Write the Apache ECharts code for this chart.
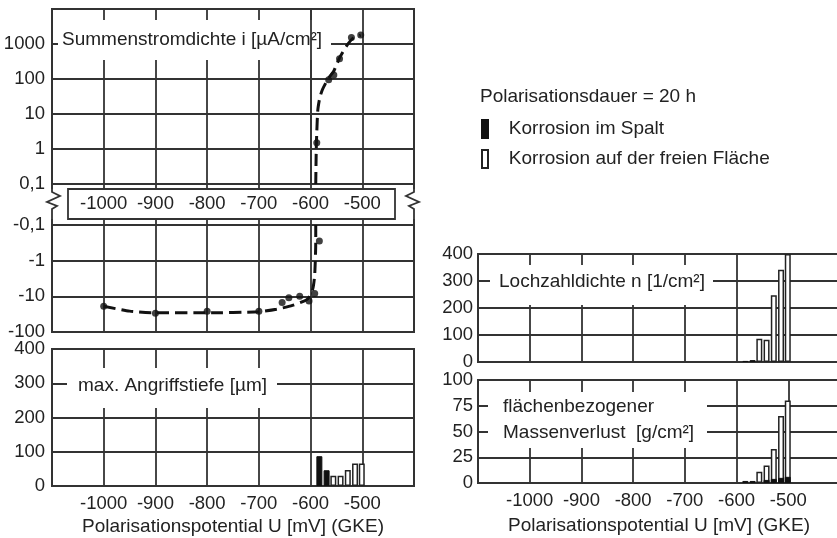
<!DOCTYPE html>
<html><head><meta charset="utf-8">
<script src="https://cdn.jsdelivr.net/npm/echarts@6/dist/echarts.min.js"></script>
<style>html,body{margin:0;padding:0;background:#fff}#c{width:837px;height:538px}</style>
</head><body><div id="c"></div>
<script>
// ---------- data ----------
// current density, positive branch (U in mV, i in µA/cm²)
const posPointsU = [-588, -565, -555, -544, -521, -503];
const posPointsI = [1.5, 95, 130, 380, 1530, 1800];
// current density, negative branch
const negPointsU = [-1000, -900, -800, -700, -655, -642, -621, -603, -592, -583];
const negPointsI = [-19, -30, -26, -26, -15, -11, -10, -13.5, -8.3, -0.28];
// dashed fitted curve
const posCurveU = [-590, -589, -588, -586, -582, -577, -570, -563, -555, -544, -530, -517, -503];
const posCurveI = [0.1, 1, 3, 13, 30, 50, 80, 117, 170, 400, 900, 1500, 1800];
const negCurveU = [-1000, -950, -900, -800, -700, -666, -635, -606, -596, -592, -590, -590];
const negCurveI = [-19, -26, -29, -29, -27, -23, -18, -12, -6.4, -2.5, -0.3, -0.1];
// bars: potentials of the samples
const barU = [-583, -569, -556, -542, -528, -514, -501];
const depthCrevice = [87, 46, null, null, null, null, null];
const depthFree = [null, null, 30, 30, 47, 66, 66];
const pitCrevice = [4, 7, null, null, null, null, null];
const pitFree = [null, null, 86, 82, 247, 342, 400];
const massCrevice = [2, 2, null, 3, 4, 5, 6];
const massFree = [null, null, 11, 17, 33, 65, 80];

const nameCrevice = 'Korrosion im Spalt';
const nameFree = 'Korrosion auf der freien Fläche';
const xName = 'Polarisationspotential U [mV] (GKE)';

// ---------- styling ----------
const FONT = 'Liberation Sans, Arial, sans-serif';
const TXT = '#222';
const LINE = '#333';
const LW = 1.8;

function pairs(xs, ys, f) {
  return xs.map((x, i) => [x, ys[i]]).filter(d => d[1] != null).map(d => [d[0], f ? f(d[1]) : d[1]]);
}
function fmtLog(v) { return v < 0.5 ? '0,1' : String(Math.round(v)); }
function hideEnds(v) { return (v <= -1100 || v >= -400) ? '' : String(v); }

function grid(left, top, width, height, show) {
  return { left, top, width, height, show: show !== false, borderColor: LINE, borderWidth: 2,
           backgroundColor: 'transparent', containLabel: false, outerBoundsMode: 'none' };
}
function xAx(gi, opts) {
  return Object.assign({
    type: 'value', gridIndex: gi, min: -1100, max: -400, interval: 100,
    axisLine: { show: false }, axisTick: { show: false },
    splitLine: { show: true, lineStyle: { color: LINE, width: LW } },
    axisLabel: { show: false }
  }, opts || {});
}
const tickLabel = { color: TXT, fontSize: 18.5, fontFamily: FONT };

const option = {
  animation: false,
  backgroundColor: '#fff',
  textStyle: { fontFamily: FONT },
  title: {
    text: 'Polarisationsdauer = 20 h', left: 480, top: 87, padding: 0,
    textStyle: { fontSize: 19, fontWeight: 'normal', color: TXT, fontFamily: FONT }
  },
  legend: {
    data: [nameCrevice, nameFree], orient: 'vertical', left: 481, top: 119, padding: 0,
    icon: 'rect', itemWidth: 6, itemHeight: 18, itemGap: 10,
    formatter: n => '   ' + n,
    textStyle: { fontSize: 19, color: TXT, fontFamily: FONT }
  },
  grid: [
    grid(52, 9, 362, 175),     // 0 positive log
    grid(52, 225, 362, 107),   // 1 negative log
    grid(52, 184, 362, 5, false), // 2 break strip (labels)
    grid(52, 219, 362, 6, false), // 3 break strip
    grid(52, 349, 362, 137),   // 4 depth
    grid(478, 254, 362, 108),  // 5 pits
    grid(478, 380, 362, 103)   // 6 mass
  ],
  xAxis: [
    xAx(0), xAx(1),
    xAx(2, { z: 3, axisLabel: Object.assign({ show: true, margin: 5, formatter: hideEnds }, tickLabel) }),
    xAx(3),
    xAx(4, { name: xName, nameLocation: 'middle', nameGap: 31, nameTextStyle: { fontSize: 19, color: TXT, fontFamily: FONT },
             axisLabel: Object.assign({ show: true, margin: 8, formatter: hideEnds }, tickLabel) }),
    xAx(5),
    xAx(6, { name: xName, nameLocation: 'middle', nameGap: 33, nameTextStyle: { fontSize: 19, color: TXT, fontFamily: FONT },
             axisLabel: Object.assign({ show: true, margin: 8, formatter: hideEnds }, tickLabel) })
  ],
  yAxis: [
    { type: 'log', logBase: 10, gridIndex: 0, min: 0.1, max: 10000, splitNumber: 5,
      axisLine: { show: false }, axisTick: { show: false },
      splitLine: { show: true, lineStyle: { color: LINE, width: LW } },
      axisLabel: Object.assign({ margin: 7, formatter: v => v >= 9999 ? '' : fmtLog(v) }, tickLabel) },
    { type: 'log', logBase: 10, gridIndex: 1, min: 0.1, max: 100, splitNumber: 3, inverse: true,
      axisLine: { show: false }, axisTick: { show: false },
      splitLine: { show: true, lineStyle: { color: LINE, width: LW } },
      axisLabel: Object.assign({ margin: 7, formatter: v => '-' + fmtLog(v) }, tickLabel) },
    { type: 'value', gridIndex: 2, show: false },
    { type: 'value', gridIndex: 3, show: false },
    { type: 'value', gridIndex: 4, min: 0, max: 400, interval: 100,
      axisLine: { show: false }, axisTick: { show: false },
      splitLine: { show: true, lineStyle: { color: LINE, width: LW } },
      axisLabel: Object.assign({ margin: 7 }, tickLabel) },
    { type: 'value', gridIndex: 5, min: 0, max: 400, interval: 100,
      axisLine: { show: false }, axisTick: { show: false },
      splitLine: { show: true, lineStyle: { color: LINE, width: LW } },
      axisLabel: Object.assign({ margin: 5 }, tickLabel) },
    { type: 'value', gridIndex: 6, min: 0, max: 100, interval: 25,
      axisLine: { show: false }, axisTick: { show: false },
      splitLine: { show: true, lineStyle: { color: LINE, width: LW } },
      axisLabel: Object.assign({ margin: 5 }, tickLabel) }
  ],
  series: [
    { type: 'line', xAxisIndex: 0, yAxisIndex: 0, data: pairs(posCurveU, posCurveI), smooth: 0.2, symbol: 'none',
      lineStyle: { color: '#111', width: 3, type: [12, 6] }, z: 3 },
    { type: 'scatter', xAxisIndex: 0, yAxisIndex: 0, data: pairs(posPointsU, posPointsI), symbolSize: 7,
      itemStyle: { color: '#111' }, z: 4,
      markLine: { silent: true, symbol: 'none', label: { show: false }, lineStyle: { color: LINE, width: LW, type: 'solid' },
                  data: [{ xAxis: -600 }] } },
    { type: 'line', xAxisIndex: 1, yAxisIndex: 1, data: pairs(negCurveU, negCurveI, Math.abs), smooth: 0.2, symbol: 'none',
      lineStyle: { color: '#111', width: 3, type: [12, 6] }, z: 3 },
    { type: 'scatter', xAxisIndex: 1, yAxisIndex: 1, data: pairs(negPointsU, negPointsI, Math.abs), symbolSize: 7,
      itemStyle: { color: '#111' }, z: 4 },

    { name: nameFree, type: 'bar', xAxisIndex: 4, yAxisIndex: 4, data: pairs(barU, depthFree), barWidth: 6, barGap: '-100%',
      itemStyle: { color: '#fff', borderColor: '#222', borderWidth: 1.5 } },
    { name: nameCrevice, type: 'bar', xAxisIndex: 4, yAxisIndex: 4, data: pairs(barU, depthCrevice), barWidth: 6, barGap: '-100%',
      itemStyle: { color: '#111', borderColor: '#111', borderWidth: 1 } },
    { name: nameFree, type: 'bar', xAxisIndex: 5, yAxisIndex: 5, data: pairs(barU, pitFree), barWidth: 6, barGap: '-100%',
      itemStyle: { color: '#fff', borderColor: '#222', borderWidth: 1.5 } },
    { name: nameCrevice, type: 'bar', xAxisIndex: 5, yAxisIndex: 5, data: pairs(barU, pitCrevice), barWidth: 6, barGap: '-100%',
      itemStyle: { color: '#111', borderColor: '#111', borderWidth: 1 } },
    { name: nameFree, type: 'bar', xAxisIndex: 6, yAxisIndex: 6, data: pairs(barU, massFree), barWidth: 6, barGap: '-100%',
      itemStyle: { color: '#fff', borderColor: '#222', borderWidth: 1.5 } },
    { name: nameCrevice, type: 'bar', xAxisIndex: 6, yAxisIndex: 6, data: pairs(barU, massCrevice), barWidth: 6, barGap: '-100%',
      itemStyle: { color: '#111', borderColor: '#111', borderWidth: 1 } }
  ],
  graphic: [
    // axis break box and zigzag frame pieces
    { type: 'rect', z: 1, shape: { x: 68, y: 189, width: 327, height: 30 }, style: { fill: '#fff', stroke: LINE, lineWidth: 1.8 } },
    { type: 'polyline', z: 1, shape: { points: [[52, 184], [52, 192], [60, 196], [47, 202], [57, 206], [52, 209], [52, 225]] },
      style: { fill: null, stroke: LINE, lineWidth: 1.8 } },
    { type: 'polyline', z: 1, shape: { points: [[414, 184], [414, 192], [406, 196], [419, 202], [409, 206], [414, 209], [414, 225]] },
      style: { fill: null, stroke: LINE, lineWidth: 1.8 } },
    // label boxes
    { type: 'rect', z: 1, shape: { x: 58, y: 20, width: 273, height: 40 }, style: { fill: '#fff' } },
    { type: 'text', z: 1, z2: 10, style: { text: 'Summenstromdichte i [µA/cm²]', x: 62, y: 40, verticalAlign: 'middle',
      font: '19px ' + FONT, fill: TXT } },
    { type: 'rect', z: 1, shape: { x: 67, y: 368, width: 210, height: 40 }, style: { fill: '#fff' } },
    { type: 'text', z: 1, z2: 10, style: { text: 'max. Angriffstiefe [µm]', x: 78, y: 386, verticalAlign: 'middle',
      font: '19px ' + FONT, fill: TXT } },
    { type: 'rect', z: 1, shape: { x: 490, y: 265, width: 223, height: 40 }, style: { fill: '#fff' } },
    { type: 'text', z: 1, z2: 10, style: { text: 'Lochzahldichte n [1/cm²]', x: 499, y: 282, verticalAlign: 'middle',
      font: '19px ' + FONT, fill: TXT } },
    { type: 'rect', z: 1, shape: { x: 488, y: 392, width: 219, height: 56 }, style: { fill: '#fff' } },
    { type: 'text', z: 1, z2: 10, style: { text: 'flächenbezogener', x: 503, y: 407, verticalAlign: 'middle',
      font: '19px ' + FONT, fill: TXT } },
    { type: 'text', z: 1, z2: 10, style: { text: 'Massenverlust  [g/cm²]', x: 503, y: 433, verticalAlign: 'middle',
      font: '19px ' + FONT, fill: TXT } }
  ]
};

const chart = echarts.init(document.getElementById('c'), null, { renderer: 'canvas' });
chart.setOption(option);
</script>
</body></html>
